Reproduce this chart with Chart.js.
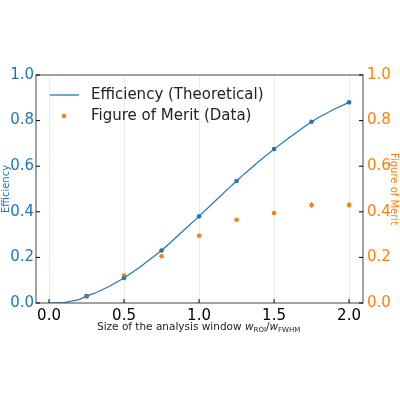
<!DOCTYPE html>
<html><head><script src="https://cdn.jsdelivr.net/npm/chart.js@4/dist/chart.umd.min.js"></script>
<style>body{margin:0;background:#fff}#w{width:400px;height:400px}</style></head>
<body><div id="w"><canvas id="c" width="400" height="400"></canvas></div>
<script>
const curveX=[0,0.1,0.2,0.25,0.3,0.4,0.5,0.6,0.7,0.75,0.8,0.9,1.0,1.1,1.2,1.25,1.3,1.4,1.5,1.6,1.7,1.75,1.8,1.9,2.0];
const curveY=[0,0.002,0.015,0.03,0.042,0.072,0.11,0.155,0.205,0.23,0.26,0.32,0.38,0.443,0.505,0.535,0.565,0.622,0.675,0.725,0.772,0.795,0.815,0.85,0.88];
const windows=[0.25,0.5,0.75,1.0,1.25,1.5,1.75,2.0];
const effPts=[0.03,0.11,0.23,0.38,0.535,0.675,0.795,0.88];
const fom=[0.03,0.12,0.205,0.295,0.365,0.395,0.43,0.43];
const fomErr=[0.005,0.008,0.008,0.006,0.008,0.006,0.012,0.012];
const xTicks=[0,0.5,1,1.5,2];
const BLUE='#1f77b4',ORANGE='#ff7f0e';
const xy=(xs,ys)=>xs.map((x,i)=>({x,y:ys[i]}));
const extras={id:'extras',afterDatasetsDraw(ch){
 const c=ch.ctx,xs=ch.scales.x,ys=ch.scales.y2,a=ch.chartArea;
 c.save();
 c.strokeStyle=ORANGE;c.lineWidth=1.2;
 windows.forEach((w,i)=>{const px=xs.getPixelForValue(w);c.beginPath();c.moveTo(px,ys.getPixelForValue(fom[i]-fomErr[i]));c.lineTo(px,ys.getPixelForValue(fom[i]+fomErr[i]));c.stroke();});
 c.strokeStyle='#444';c.lineWidth=1;c.strokeRect(a.left,a.top,a.right-a.left,a.bottom-a.top);
 // inward ticks
 c.strokeStyle='#000';
 xTicks.forEach(t=>{const p=xs.getPixelForValue(t);c.beginPath();c.moveTo(p,a.bottom);c.lineTo(p,a.bottom-4);c.stroke();});
 [0,0.2,0.4,0.6,0.8,1].forEach(t=>{const p=ch.scales.y.getPixelForValue(t);c.beginPath();c.moveTo(a.left,p);c.lineTo(a.left+4,p);c.moveTo(a.right,p);c.lineTo(a.right-4,p);c.stroke();});
 // legend
 c.font='15px "DejaVu Sans"';c.fillStyle='#222';c.textBaseline='middle';
 c.strokeStyle=BLUE;c.lineWidth=1.3;c.beginPath();c.moveTo(50,95);c.lineTo(79,95);c.stroke();
 c.fillText('Efficiency (Theoretical)',91,95);
 c.fillStyle=ORANGE;c.beginPath();c.arc(64,116,2.3,0,7);c.fill();
 c.fillStyle='#222';c.fillText('Figure of Merit (Data)',91,116);
 // x title
 c.font='10.5px "DejaVu Sans"';c.textBaseline='alphabetic';
 let x=97;const y=330;
 const put=(s,f)=>{c.font=f;c.fillText(s,x,y+(f.includes('7')?2:0));x+=c.measureText(s).width;};
 put('Size of the analysis window ','10.5px "DejaVu Sans"');
 put('w','italic 10.5px "DejaVu Sans"');put('ROI','7px "DejaVu Sans"');
 put('/','10.5px "DejaVu Sans"');put('w','italic 10.5px "DejaVu Sans"');put('FWHM','7px "DejaVu Sans"');
 c.restore();}};
new Chart(document.getElementById('c'),{type:'scatter',
 data:{datasets:[
  {data:xy(curveX,curveY),showLine:true,borderColor:BLUE,borderWidth:1.2,pointRadius:0,yAxisID:'y'},
  {data:xy(windows,effPts),backgroundColor:BLUE,borderWidth:0,pointRadius:2.3,yAxisID:'y'},
  {data:xy(windows,fom),backgroundColor:ORANGE,borderWidth:0,pointRadius:2.3,yAxisID:'y2'}]},
 options:{responsive:false,animation:false,devicePixelRatio:1,
  layout:{padding:{top:75,left:0,right:0,bottom:0}},
  plugins:{legend:{display:false},tooltip:{enabled:false}},
  scales:{
   x:{type:'linear',min:-0.087,max:2.093,afterBuildTicks:s=>{s.ticks=xTicks.map(v=>({value:v}));},afterFit:s=>{s.height=97;},
    grid:{color:'rgba(0,0,0,0.08)',drawTicks:false},border:{display:false},
    ticks:{color:'#000',font:{size:15,family:'DejaVu Sans'},padding:4,maxRotation:0,callback:v=>v.toFixed(1)}},
   y:{position:'left',min:0,max:1,afterFit:s=>{s.width=36;},grid:{display:false,drawTicks:false},border:{display:false},
    ticks:{stepSize:0.2,color:BLUE,font:{size:15,family:'DejaVu Sans'},padding:2,callback:v=>v.toFixed(1)},
    title:{display:true,text:'Efficiency',color:BLUE,font:{size:10,family:'DejaVu Sans'},padding:0}},
   y2:{position:'right',min:0,max:1,afterFit:s=>{s.width=37;},grid:{display:false,drawTicks:false},border:{display:false},
    ticks:{stepSize:0.2,color:ORANGE,font:{size:15,family:'DejaVu Sans'},padding:4,callback:v=>v.toFixed(1)},
    title:{display:true,text:'Figure of Merit',color:ORANGE,font:{size:10,family:'DejaVu Sans'},padding:0}}}},
 plugins:[extras]});
</script></body></html>
